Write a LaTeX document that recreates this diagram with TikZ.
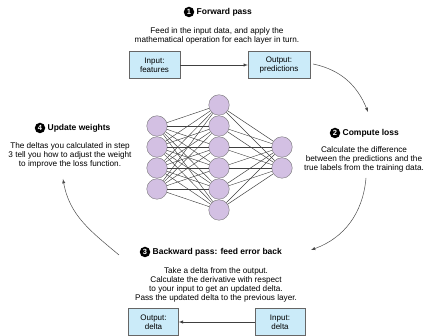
\documentclass[tikz,border=0pt]{standalone}
\usepackage{fontspec}
\setmainfont{Liberation Sans}
\usetikzlibrary{calc}
\usetikzlibrary{positioning}
\definecolor{nnpurple}{HTML}{D3C0E3}
\definecolor{boxblue}{HTML}{CBEBF9}
\tikzstyle{neuron}=[circle,draw=black!55,fill=nnpurple,minimum size=20.5pt,inner sep=0pt]
\tikzstyle{synapse}=[black!75,line width=0.45pt]
\tikzstyle{stepbox}=[draw=black!60,fill=boxblue,align=center,minimum height=27pt,inner sep=2pt,font=\fontsize{8}{9}\selectfont]
\tikzstyle{steptitle}=[font=\bfseries\fontsize{8.5}{9}\selectfont,inner sep=1pt]
\tikzstyle{stepnum}=[circle,fill=black,text=white,inner sep=0pt,minimum size=10.5pt,font=\bfseries\fontsize{7.5}{7.5}\selectfont]
\tikzstyle{steptext}=[align=center,font=\fontsize{8.2}{9}\selectfont,inner sep=0pt]
\tikzstyle{flow}=[-latex,black!75,line width=0.5pt]
\tikzstyle{cycle}=[-latex,black!70,line width=0.5pt]
\pgfmathsetmacro{\gap}{21}
\pgfmathsetmacro{\midy}{178.5}
\newcommand{\drawlayer}[3]{
% #1 name, #2 neurons, #3 x
\foreach \i in {1,...,#2} {
  \pgfmathsetmacro{\y}{\midy + \gap*(#2+1)/2 - \gap*\i}
  \node[neuron] (#1\i) at (#3,\y) {};
}
}
\newcommand{\connectlayers}[4]{
\foreach \i in {1,...,#2} {
  \foreach \j in {1,...,#4} {
    \draw[synapse] (#1\i) -- (#3\j);
  }
}
}
\begin{document}
\begin{tikzpicture}[x=1pt,y=1pt]
  \useasboundingbox (0,0) rectangle (425,336);
  \begin{scope}
  \drawlayer{l}{4}{157}
  \drawlayer{h}{6}{219}
  \drawlayer{o}{2}{282}
  \connectlayers{l}{4}{h}{6}
  \connectlayers{h}{6}{o}{2}
  \end{scope}
  % forward pass
  \node[stepnum] (fwdnum) at (189,324) {1};
  \node[steptitle,right=1pt of fwdnum] (fwdtitle) {Forward pass};
  \node[steptext] (fwdtext) at (217,300) {Feed in the input data, and apply the\\mathematical operation for each layer in turn.};
  \node[stepbox,minimum width=51pt] (fin) at (154.5,271) {Input:\\features};
  \node[stepbox,minimum width=62pt] (fout) at (279,271) {Output:\\predictions};
  \draw[flow] (fin) -- (fout);
  % compute loss
  \node[stepnum] (lossnum) at (335,203) {2};
  \node[steptitle,right=1pt of lossnum] (losstitle) {Compute loss};
  \node[steptext] (losstext) at (364,177) {Calculate the difference\\between the predictions and the\\true labels from the training data.};
  % backward pass
  \node[stepnum] (backnum) at (145,84) {3};
  \node[steptitle,right=1pt of backnum] (backtitle) {Backward pass: feed error back};
  \node[steptext] (backtext) at (216,51) {Take a delta from the output.\\Calculate the derivative with respect\\to your input to get an updated delta.\\Pass the updated delta to the previous layer.};
  \node[stepbox,minimum width=50pt] (bout) at (153.5,14) {Output:\\delta};
  \node[stepbox,minimum width=50pt] (bin) at (280,14) {Input:\\delta};
  \draw[flow] (bin) -- (bout);
  % update weights
  \node[stepnum] (updnum) at (40,208) {4};
  \node[steptitle,right=1pt of updnum] (updtitle) {Update weights};
  \node[steptext] (updtext) at (70,181) {The deltas you calculated in step\\3 tell you how to adjust the weight\\to improve the loss function.};
  % the loop
  \coordinate (fwdend) at (368,224);
  \coordinate (lossstart) at (366,158);
  \coordinate (lossend) at (311,86);
  \coordinate (backstart) at (119,81);
  \coordinate (backend) at (63,157);
  \draw[cycle] ([xshift=3pt,yshift=1pt]fout.east) to[out=-12,in=112] (fwdend); %1 to 2
  \draw[cycle] (lossstart) to[out=-95,in=20] (lossend); %2 to 3
  \draw[cycle] (backstart) to[out=140,in=-80] (backend); %3 to 4
\end{tikzpicture}
\end{document}
